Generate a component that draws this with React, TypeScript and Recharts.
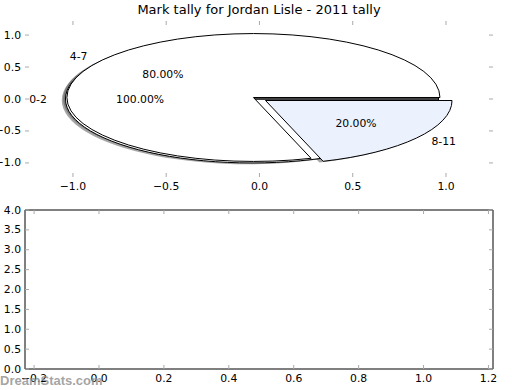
import React from "react";
import { ComposedChart, XAxis, YAxis, PieChart, Pie, Cell } from "recharts";

const title = "Mark tally for Jordan Lisle - 2011 tally";
const bands = ["0-2", "4-7", "8-11"];
const shares = [1.0, 0.8, 0.2];
const explode = [0.04, 0.04, 0.04];
const fills = ["#ffffff", "#ffffff", "#ebf1fd"];

const pieXTicks = [-1, -0.5, 0, 0.5, 1];
const pieYTicks = [-1, -0.5, 0, 0.5, 1];
const pieXDomain = [-1.257, 1.252];
const pieYDomain = [-1.22, 1.22];

const lowXTicks = [-0.2, 0, 0.2, 0.4, 0.6, 0.8, 1.0, 1.2];
const lowYTicks = [0, 0.5, 1, 1.5, 2, 2.5, 3, 3.5, 4];
const lowXDomain = [-0.228, 1.214];
const lowYDomain = [0, 4];

const W = 520;
const H = 195;
const FONT = "DejaVu Sans, sans-serif";
// plot edges inside each panel
const topBox = { top: 21, right: 27, bottom: 18, left: 25 };
const lowBox = { top: 15, right: 27, bottom: 21, left: 25 };
// axes are 1px thick (0 would not draw), so the margins give that back
const shrink = (m: typeof topBox) => ({ top: m.top - 1, right: m.right - 1, bottom: m.bottom - 1, left: m.left - 1 });

// pixel scale of the top panel, the pie is squashed into its unequal axes
const R = (W - topBox.left - topBox.right) / (pieXDomain[1] - pieXDomain[0]);
const RY = (H - topBox.top - topBox.bottom) / (pieYDomain[1] - pieYDomain[0]);
const K = RY / R;
const CX = topBox.left - pieXDomain[0] * R;
const CY = topBox.top + pieYDomain[1] * RY;

const fmt = (v: number) => v.toFixed(1).replace("-", "\u2212");

function makeTick(side: "bottom" | "top" | "left" | "right", label: boolean) {
  return (p: any) => {
    const { x, y } = p;
    const v = p.payload.value;
    let line;
    if (side === "bottom") line = <line x1={x} y1={y} x2={x} y2={y - 4} />;
    else if (side === "top") line = <line x1={x} y1={y} x2={x} y2={y + 4} />;
    else if (side === "left") line = <line x1={x} y1={y} x2={x + 4} y2={y} />;
    else line = <line x1={x} y1={y} x2={x - 4} y2={y} />;
    return (
      <g>
        <g stroke="#aaa" strokeWidth={1}>{line}</g>
        {label && side === "bottom" && (
          <text x={x} y={y + 13} textAnchor="middle" fontSize={10.8} fontFamily={FONT} fill="#000">
            {fmt(v)}
          </text>
        )}
        {label && side === "left" && (
          <text x={x - 4} y={y} textAnchor="end" dominantBaseline="central" fontSize={10.8} fontFamily={FONT} fill="#000">
            {fmt(v)}
          </text>
        )}
      </g>
    );
  };
}

// each wedge starts where the previous one ended, wrapping round the circle
const wedges = shares.map((share, i) => {
  const before = shares.slice(0, i).reduce((a, b) => a + b, 0) % 1;
  const data = [
    { name: "", value: before },
    { name: bands[i], value: share },
    { name: "", value: 1 - before - share },
  ].filter((d) => d.value > 1e-9);
  const mid = ((before + share / 2) * 360 * Math.PI) / 180;
  const dx = explode[i] * R * Math.cos(mid);
  const dy = -explode[i] * R * Math.sin(mid);
  return { data, cx: CX + dx, cy: CY + dy, fill: fills[i] };
});

const renderLabel = (p: any) => {
  const name = p.payload?.name ?? p.name;
  if (!name) return null;
  const a = (p.midAngle * Math.PI) / 180;
  const ox = p.cx;
  const oy = CY + (p.cy - CY) * K;
  const r = p.outerRadius;
  const lx = ox + 1.1 * r * Math.cos(a);
  const ly = oy - 1.1 * r * K * Math.sin(a);
  const px = ox + 0.6 * r * Math.cos(a);
  const py = oy - 0.6 * r * K * Math.sin(a);
  return (
    <g fontFamily={FONT} fontSize={10.8} fill="#000">
      <text x={lx} y={ly} textAnchor={lx > ox ? "start" : "end"} dominantBaseline="central">
        {name}
      </text>
      <text x={px} y={py} textAnchor="middle" dominantBaseline="central">
        {(p.percent * 100).toFixed(2) + "%"}
      </text>
    </g>
  );
};

const squashCss = `.pie-squash path.recharts-sector{transform-box:view-box;transform-origin:${CX}px ${CY}px;transform:scaleY(${K});vector-effect:non-scaling-stroke;}`;

// an empty panel: only the axes, fed with the tick values so both axes get a scale
function Frame({ xDomain, yDomain, xTicks, yTicks, box, line }: any) {
  const axisLine = line ? { stroke: "#000" } : false;
  const rows = Array.from({ length: Math.max(xTicks.length, yTicks.length) }, (_, i) => ({ x: xTicks[i], y: yTicks[i] }));
  const common = { tickLine: false, tickSize: 0, tickMargin: 0, interval: 0 as const, allowDataOverflow: true, axisLine };
  return (
    <ComposedChart width={W} height={H} data={rows} margin={shrink(box)}>
      <XAxis xAxisId="b" dataKey="x" type="number" domain={xDomain} ticks={xTicks} height={1} tick={makeTick("bottom", true)} {...common} />
      <XAxis xAxisId="t" dataKey="x" orientation="top" type="number" domain={xDomain} ticks={xTicks} height={1} tick={makeTick("top", false)} {...common} />
      <YAxis yAxisId="l" dataKey="y" type="number" domain={yDomain} ticks={yTicks} width={1} tick={makeTick("left", true)} {...common} />
      <YAxis yAxisId="r" dataKey="y" orientation="right" type="number" domain={yDomain} ticks={yTicks} width={1} tick={makeTick("right", false)} {...common} />
    </ComposedChart>
  );
}

export default function App() {
  return (
    <div style={{ position: "absolute", left: 0, top: 0, width: W, height: 390, background: "#fff", fontFamily: FONT }}>
      <style>{squashCss}</style>
      <div style={{ position: "absolute", left: topBox.left, top: 2, width: W - topBox.left - topBox.right, textAlign: "center", fontSize: 13, lineHeight: "16px" }}>
        {title}
      </div>

      <div style={{ position: "absolute", left: 0, top: 0 }}>
        <Frame xDomain={pieXDomain} yDomain={pieYDomain} xTicks={pieXTicks} yTicks={pieYTicks} box={topBox} line={false} />
      </div>

      <div className="pie-squash" style={{ position: "absolute", left: 0, top: 0 }}>
        <PieChart width={W} height={H} margin={{ top: 0, right: 0, bottom: 0, left: 0 }}>
          {wedges.map((w, i) => (
            <Pie key={"s" + i} data={w.data} dataKey="value" nameKey="name" cx={w.cx - 0.02 * R} cy={w.cy + 0.02 * R} outerRadius={R} isAnimationActive={false} label={false}>
              {w.data.map((d, j) => (
                <Cell key={j} fill={d.name ? "rgba(77,77,77,0.5)" : "none"} stroke="none" />
              ))}
            </Pie>
          ))}
          {wedges.map((w, i) => (
            <Pie key={"w" + i} data={w.data} dataKey="value" nameKey="name" cx={w.cx} cy={w.cy} outerRadius={R} isAnimationActive={false} label={false}>
              {w.data.map((d, j) => (
                <Cell key={j} fill={d.name ? w.fill : "none"} stroke={d.name ? "#000" : "none"} strokeWidth={1} />
              ))}
            </Pie>
          ))}
          {wedges.map((w, i) => (
            <Pie key={"l" + i} data={w.data} dataKey="value" nameKey="name" cx={w.cx} cy={w.cy} outerRadius={R} isAnimationActive={false} label={renderLabel} labelLine={false}>
              {w.data.map((d, j) => (
                <Cell key={j} fill="none" stroke="none" />
              ))}
            </Pie>
          ))}
        </PieChart>
      </div>

      <div style={{ position: "absolute", left: 0, top: H }}>
        <Frame xDomain={lowXDomain} yDomain={lowYDomain} xTicks={lowXTicks} yTicks={lowYTicks} box={lowBox} line={true} />
      </div>

      <div style={{ position: "absolute", left: 0, top: 373, fontSize: 13, lineHeight: "16px", fontFamily: "Liberation Sans, Arial, sans-serif", color: "rgba(140,140,140,0.8)", fontWeight: "bold", whiteSpace: "nowrap" }}>
        DreamStats.com
      </div>
    </div>
  );
}
